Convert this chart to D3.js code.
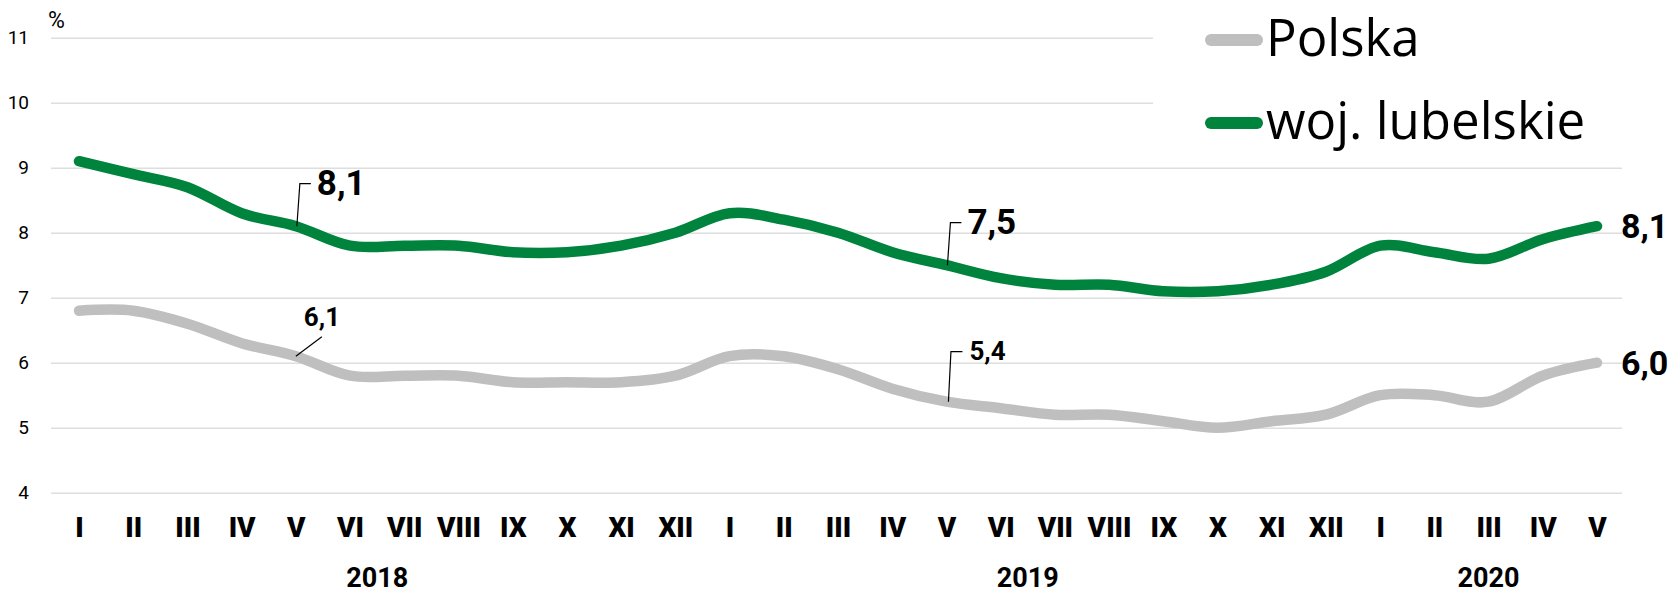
<!DOCTYPE html>
<html>
<head>
<meta charset="utf-8">
<script src="https://cdn.jsdelivr.net/npm/d3@7"></script>
<style>
  html, body { margin: 0; padding: 0; background: #fff; }
  svg { display: block; }
</style>
</head>
<body>
<svg id="chart" width="1680" height="593"></svg>
<script>
// ---- data ----
const months = ["I","II","III","IV","V","VI","VII","VIII","IX","X","XI","XII",
                "I","II","III","IV","V","VI","VII","VIII","IX","X","XI","XII",
                "I","II","III","IV","V"];
const yearLabels = ["2018", "2019", "2020"];
const yearFirstMonth = [0, 12, 24];
const yearLastMonth = [11, 23, 28];
const polska = [6.8, 6.8, 6.6, 6.3, 6.1, 5.8, 5.8, 5.8, 5.7, 5.7, 5.7, 5.8,
                6.1, 6.1, 5.9, 5.6, 5.4, 5.3, 5.2, 5.2, 5.1, 5.0, 5.1, 5.2,
                5.5, 5.5, 5.4, 5.8, 6.0];
const lubelskie = [9.1, 8.9, 8.7, 8.3, 8.1, 7.8, 7.8, 7.8, 7.7, 7.7, 7.8, 8.0,
                   8.3, 8.2, 8.0, 7.7, 7.5, 7.3, 7.2, 7.2, 7.1, 7.1, 7.2, 7.4,
                   7.8, 7.7, 7.6, 7.9, 8.1];
const yTicks = [4, 5, 6, 7, 8, 9, 10, 11];
const seriesNames = ["Polska", "woj. lubelskie"];
// annotated points: [series index, month index]
const calloutsBig = [[1, 4], [1, 16]];
const calloutsSmall = [[0, 4], [0, 16]];

// ---- layout ----
const svg = d3.select("#chart");
const colors = ["#bfbfbf", "#00843d"];
const series = [polska, lubelskie];
const fmt = v => d3.format(".1f")(v).replace(".", ",");
const FONT = "Roboto, 'Open Sans', sans-serif";

const x = d3.scalePoint().domain(d3.range(months.length)).range([79, 1597]);
const y = d3.scaleLinear().domain([4, 11]).range([492.7, 37.7]);
const gridLeft = 51, gridRight = 1622;

// grid + y labels
const yAxis = d3.axisLeft(y).tickValues(yTicks).tickSize(-(gridRight - gridLeft))
  .tickPadding(22).tickFormat(d3.format("d"));
const gy = svg.append("g").attr("transform", `translate(${gridLeft},0)`).call(yAxis);
gy.select(".domain").remove();
gy.selectAll(".tick line").attr("stroke", "#dedede").attr("stroke-width", 1.6);
gy.selectAll(".tick text").attr("fill", "#000")
  .style("font-family", FONT).style("font-size", "19px");

svg.append("text").attr("x", 48).attr("y", 28).text("%")
  .style("font-family", FONT).style("font-size", "23px");

// legend background (covers upper gridlines)
svg.append("rect").attr("x", 1153).attr("y", 0).attr("width", 527).attr("height", 150).attr("fill", "#fff");

// x axis month labels
const xAxis = d3.axisBottom(x).tickSize(0).tickFormat(i => months[i]);
const gx = svg.append("g").call(xAxis);
gx.select(".domain").remove();
gx.selectAll(".tick text").attr("y", 537).attr("dy", null).attr("fill", "#000")
  .style("font-family", FONT).style("font-size", "28px").style("font-weight", "900");

// year labels
svg.append("g").selectAll("text").data(yearLabels).join("text")
  .attr("x", (d, i) => (x(yearFirstMonth[i]) + x(yearLastMonth[i])) / 2)
  .attr("y", 587).attr("text-anchor", "middle").text(d => d)
  .style("font-family", FONT).style("font-size", "27px").style("font-weight", "700");

// lines
const line = d3.line().x((d, i) => x(i)).y(d => y(d)).curve(d3.curveCardinal.tension(0));
svg.append("g").selectAll("path").data(series).join("path")
  .attr("d", d => line(d)).attr("fill", "none")
  .attr("stroke", (d, i) => colors[i]).attr("stroke-width", 10.5)
  .attr("stroke-linecap", "round").attr("stroke-linejoin", "round");

// end labels
const last = months.length - 1;
svg.append("g").selectAll("text").data(series).join("text")
  .attr("x", x(last) + 24).attr("y", d => y(d[last]) + 12).text(d => fmt(d[last]))
  .style("font-family", FONT).style("font-size", "34px").style("font-weight", "700");

// big callouts (lubelskie)
const gc = svg.append("g");
calloutsBig.forEach(([s, m]) => {
  const px = x(m), py = y(series[s][m]);
  gc.append("path").attr("d", `M${px + 1},${py} L${px + 4},${py - 42.5} L${px + 15},${py - 42.5}`)
    .attr("fill", "none").attr("stroke", "#000").attr("stroke-width", 1.2);
  gc.append("text").attr("x", px + 21).attr("y", py - 31).text(fmt(series[s][m]))
    .style("font-family", FONT).style("font-size", "35px").style("font-weight", "700");
});
// small callouts (Polska)
{
  const [s, m] = calloutsSmall[0];
  const px = x(m), py = y(series[s][m]);
  gc.append("path").attr("d", `M${px},${py} L${px + 26},${py - 19.5}`)
    .attr("fill", "none").attr("stroke", "#000").attr("stroke-width", 1.2);
  gc.append("text").attr("x", px + 8).attr("y", py - 30).text(fmt(series[s][m]))
    .style("font-family", FONT).style("font-size", "26px").style("font-weight", "700");
}
{
  const [s, m] = calloutsSmall[1];
  const px = x(m), py = y(series[s][m]);
  gc.append("path").attr("d", `M${px + 2},${py} L${px + 4.5},${py - 50} L${px + 16},${py - 50}`)
    .attr("fill", "none").attr("stroke", "#000").attr("stroke-width", 1.2);
  gc.append("text").attr("x", px + 23).attr("y", py - 41.5).text(fmt(series[s][m]))
    .style("font-family", FONT).style("font-size", "26px").style("font-weight", "700");
}

// legend
const lg = svg.append("g");
const legendY = [40, 123];
const legendTextY = [56, 139];
seriesNames.forEach((name, i) => {
  lg.append("line").attr("x1", 1211).attr("x2", 1257).attr("y1", legendY[i]).attr("y2", legendY[i])
    .attr("stroke", colors[i]).attr("stroke-width", 12).attr("stroke-linecap", "round");
  lg.append("text").attr("x", 1266).attr("y", legendTextY[i]).text(name)
    .style("font-family", "'Open Sans', sans-serif").style("font-size", "51px").attr("fill", "#000");
});
</script>
</body>
</html>
